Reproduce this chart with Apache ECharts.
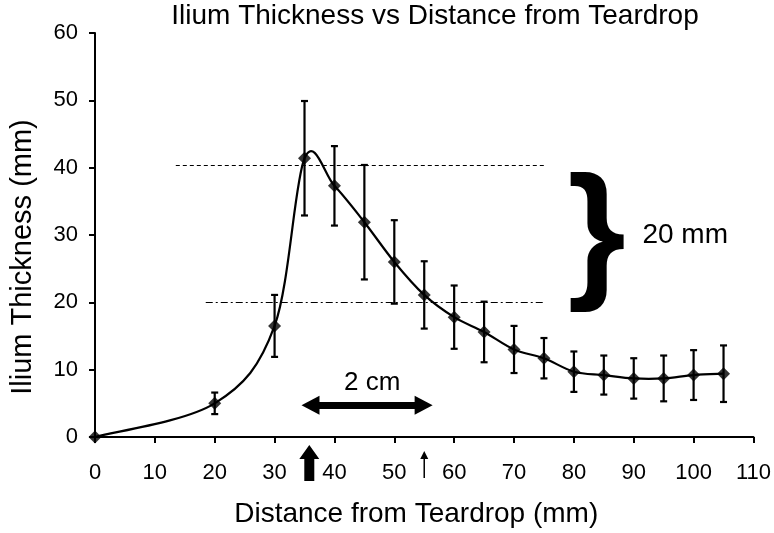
<!DOCTYPE html>
<html>
<head>
<meta charset="utf-8">
<script src="https://cdn.jsdelivr.net/npm/echarts@6/dist/echarts.min.js"></script>
<style>
html,body{margin:0;padding:0;background:#fff;}
#main{width:774px;height:533px;}
</style>
</head>
<body>
<div id="main"></div>
<script>
// ---- data ----
const distances = [0, 20, 30, 35, 40, 45, 50, 55, 60, 65, 70, 75, 80, 85, 90, 95, 100, 105];
const thickness = [0, 5.0, 16.5, 41.4, 37.3, 31.9, 26.0, 21.1, 17.8, 15.6, 13.0, 11.7, 9.7, 9.2, 8.7, 8.7, 9.2, 9.4];
const errors    = [0, 1.6, 4.6, 8.5, 5.9, 8.5, 6.2, 5.0, 4.7, 4.5, 3.5, 3.0, 3.0, 2.9, 3.0, 3.4, 3.7, 4.2];
const xTicks = [0, 110, 10];
const yTicks = [0, 60, 10];
const dashedRef = [13.5, 75, 40.4];     // x from, x to, y
const dashDotRef = [18.5, 75, 20];      // x from, x to, y
const twoCmArrow = [36.0, 54.9, 4.7];   // x from, x to, y
const twoCmLabel = [46.3, 8.1];
const braceAt = [83.8, 29.3];
const braceLabelAt = [98.6, 29.9];
const upArrowsX = [35.8, 55];

const FONT = 'Liberation Sans, Arial, sans-serif';
const chart = echarts.init(document.getElementById('main'));

const lineData = distances.map((d, i) => [d, thickness[i]]);
const errData = distances.map((d, i) => [d, thickness[i], errors[i]]);

chart.setOption({
  animation: false,
  backgroundColor: '#fff',
  title: {
    text: 'Ilium Thickness vs Distance from Teardrop',
    left: 430, top: -3, textAlign: 'center',
    textStyle: {fontFamily: FONT, fontSize: 28, fontWeight: 'normal', color: '#000'}
  },
  grid: {left: 90, right: 19, top: 33, bottom: 92, containLabel: false},
  xAxis: {
    type: 'value', min: xTicks[0], max: xTicks[1], interval: xTicks[2],
    name: 'Distance from Teardrop (mm)', nameLocation: 'middle', nameGap: 63,
    nameTextStyle: {fontFamily: FONT, fontSize: 28, color: '#000', padding: [0, 16, 0, 0]},
    axisLine: {lineStyle: {color: '#000', width: 2}},
    axisTick: {show: true, length: 6, inside: false, lineStyle: {color: '#000', width: 2}},
    axisLabel: {fontFamily: FONT, fontSize: 22, color: '#000', margin: 25},
    splitLine: {show: false}
  },
  yAxis: {
    type: 'value', min: yTicks[0], max: yTicks[1], interval: yTicks[2],
    name: 'Ilium Thickness (mm)', nameLocation: 'middle', nameGap: 58, nameRotate: 90,
    nameTextStyle: {fontFamily: FONT, fontSize: 29, color: '#000', padding: [0, 44, 0, 0]},
    axisLine: {show: true, lineStyle: {color: '#000', width: 2}},
    axisTick: {show: true, length: 6, inside: false, lineStyle: {color: '#000', width: 2}},
    axisLabel: {fontFamily: FONT, fontSize: 22, color: '#000', margin: 17},
    splitLine: {show: false}
  },
  series: [
    {
      // smoothed curve (Catmull-Rom through the data points, via the axis scales)
      type: 'custom', data: lineData, z: 3, clip: false, silent: true,
      renderItem: function (params, api) {
        const i = params.dataIndex;
        const n = lineData.length;
        if (i >= n - 1) return null;
        const P = k => api.coord(lineData[Math.max(0, Math.min(n - 1, k))]);
        const p0 = P(i - 1), p1 = P(i), p2 = P(i + 1), p3 = P(i + 2);
        return {
          type: 'bezierCurve',
          shape: {
            x1: p1[0], y1: p1[1], x2: p2[0], y2: p2[1],
            cpx1: p1[0] + (p2[0] - p0[0]) / 6, cpy1: p1[1] + (p2[1] - p0[1]) / 6,
            cpx2: p2[0] - (p3[0] - p1[0]) / 6, cpy2: p2[1] - (p3[1] - p1[1]) / 6
          },
          style: {stroke: '#000', lineWidth: 2.2, fill: null}
        };
      }
    },
    {
      type: 'custom', data: errData, z: 4, silent: true,
      renderItem: function (params, api) {
        const x = api.value(0), y = api.value(1), e = api.value(2);
        if (!e) return null;
        const top = api.coord([x, y + e]);
        const bot = api.coord([x, y - e]);
        const cap = 3.5;
        const st = {stroke: '#000', lineWidth: 2.2};
        return {
          type: 'group',
          children: [
            {type: 'line', shape: {x1: top[0], y1: top[1], x2: bot[0], y2: bot[1]}, style: st},
            {type: 'line', shape: {x1: top[0] - cap, y1: top[1], x2: top[0] + cap, y2: top[1]}, style: st},
            {type: 'line', shape: {x1: bot[0] - cap, y1: bot[1], x2: bot[0] + cap, y2: bot[1]}, style: st}
          ]
        };
      }
    },
    {
      type: 'scatter', data: lineData, clip: false, z: 5,
      symbol: 'diamond', symbolSize: 13,
      itemStyle: {color: '#000'},
      markLine: {
        silent: true, symbol: ['none', 'none'], label: {show: false},
        data: [
          [{coord: [dashedRef[0], dashedRef[2]], lineStyle: {type: [4, 3], color: '#000', width: 1}},
           {coord: [dashedRef[1], dashedRef[2]]}],
          [{coord: [dashDotRef[0], dashDotRef[2]], lineStyle: {type: [7, 3, 2, 3], color: '#000', width: 1}},
           {coord: [dashDotRef[1], dashDotRef[2]]}],
          [{coord: [twoCmArrow[0], twoCmArrow[2]], symbol: 'triangle', symbolSize: [19, 18],
            lineStyle: {type: 'solid', color: '#000', width: 7}},
           {coord: [twoCmArrow[1], twoCmArrow[2]], symbol: 'triangle', symbolSize: [19, 18]}]
        ]
      },
      markPoint: {
        silent: true, symbol: 'circle', symbolSize: 0,
        data: [
          {coord: twoCmLabel, label: {show: true, formatter: '2 cm', position: 'inside',
            fontFamily: FONT, fontSize: 26, color: '#000'}},
          {coord: braceAt, label: {show: true, formatter: '}', position: 'inside',
            fontFamily: FONT, fontSize: 150, fontWeight: 'bold', color: '#000'}},
          {coord: braceLabelAt, label: {show: true, formatter: '20 mm', position: 'inside',
            fontFamily: FONT, fontSize: 28, color: '#000'}}
        ]
      }
    }
  ]
});

// up arrows under the x axis, positioned through the axis scale
const p1 = chart.convertToPixel({xAxisIndex: 0, yAxisIndex: 0}, [upArrowsX[0], 0]);
const p2 = chart.convertToPixel({xAxisIndex: 0, yAxisIndex: 0}, [upArrowsX[1], 0]);
chart.setOption({
  graphic: [
    {type: 'polygon', silent: true,
     shape: {points: [[p1[0], p1[1] + 8], [p1[0] + 10, p1[1] + 22], [p1[0] + 5, p1[1] + 22],
                      [p1[0] + 5, p1[1] + 44], [p1[0] - 5, p1[1] + 44], [p1[0] - 5, p1[1] + 22],
                      [p1[0] - 10, p1[1] + 22]]},
     style: {fill: '#000'}},
    {type: 'line', silent: true,
     shape: {x1: p2[0], y1: p2[1] + 20, x2: p2[0], y2: p2[1] + 41},
     style: {stroke: '#000', lineWidth: 1.5}},
    {type: 'polygon', silent: true,
     shape: {points: [[p2[0], p2[1] + 14], [p2[0] + 4, p2[1] + 22], [p2[0] - 4, p2[1] + 22]]},
     style: {fill: '#000'}}
  ]
});
</script>
</body>
</html>
